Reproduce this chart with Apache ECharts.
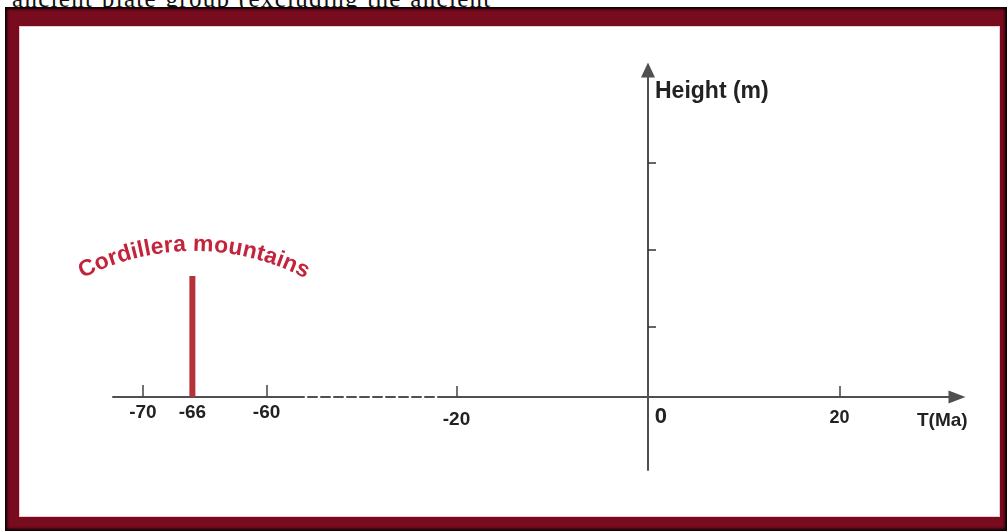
<!DOCTYPE html>
<html>
<head>
<meta charset="utf-8">
<script src="https://cdn.jsdelivr.net/npm/echarts@6/dist/echarts.min.js"></script>
<style>
  html, body { margin: 0; padding: 0; width: 1007px; height: 531px; overflow: hidden; background: #fff; }
  #top { position: absolute; left: 12px; top: -14px; font-family: "Liberation Serif", "DejaVu Serif", serif; font-size: 25px; line-height: 26px; letter-spacing: 1.3px; word-spacing: 1px; color: #111; white-space: nowrap; }
  #frame { position: absolute; left: 5px; top: 7px; width: 1002px; height: 524px; background: #780b1d; box-shadow: inset 0 0 3px 2px #000; }
  #inner { position: absolute; left: 19px; top: 26px; width: 981px; height: 491px; background: #fff; border: 1px solid #efc9d0; box-sizing: border-box; }
  #chart { position: absolute; left: 0; top: 0; width: 1007px; height: 531px; }
</style>
</head>
<body>
<div id="top">ancient plate group (excluding the ancient</div>
<div id="frame"></div>
<div id="inner"></div>
<div id="chart"></div>
<script>
// ---- data ----
const leftLabels = [-70, -66, -60];
const leftTicks = [-70, -60];
const rightLabels = [-20, 0, 20];
const rightTicks = [-20, 20];
const heightTicks = [700, 1470, 2340];
const barData = [[-66, 1210]];
const barLabel = 'Cordillera mountains';
const xName = 'T(Ma)';
const yName = 'Height (m)';

const FONT = '"Liberation Sans", Arial, sans-serif';
const AX = '#505050';
const TXT = '#222';
const RED_TXT = '#c3233b';
const RED_BAR = '#b5323b';

// ---- curved label (characters laid along an arc) ----
function arcText(text, cx, cy, R, fontSize, spacing) {
  const c = document.createElement('canvas').getContext('2d');
  c.font = 'bold ' + fontSize + 'px ' + FONT;
  const ws = [...text].map(ch => c.measureText(ch).width + spacing);
  const total = ws.reduce((a, b) => a + b, 0) - spacing;
  let acc = 0;
  const els = [];
  [...text].forEach((ch, i) => {
    const s = acc + (ws[i] - spacing) / 2 - total / 2;
    acc += ws[i];
    const th = s / R;
    const r = R + fontSize * 0.36;
    els.push({
      type: 'text',
      x: cx + r * Math.sin(th),
      y: cy - r * Math.cos(th),
      rotation: -th,
      style: {
        text: ch, fill: RED_TXT, fontSize: fontSize, fontWeight: 'bold',
        fontFamily: FONT, align: 'center', verticalAlign: 'middle'
      },
      z: 10
    });
  });
  return els;
}

const chart = echarts.init(document.getElementById('chart'), null, { renderer: 'canvas' });
const gridTop = 70, gridH = 400, yMin = -730, yMax = 3270;
const LM = -67; // label margin measured from grid bottom so labels sit under the zero line

chart.setOption({
  animation: false,
  backgroundColor: 'transparent',
  grid: [
    { left: 113, width: 182, top: gridTop, height: gridH },
    { left: 295, width: 145, top: gridTop, height: gridH },
    { left: 440, width: 517, top: gridTop, height: gridH }
  ],
  xAxis: [
    {
      gridIndex: 0, type: 'value', min: -72.42, max: -57.7,
      axisLine: { onZero: true, lineStyle: { color: AX, width: 2 } },
      axisTick: { inside: true, length: 12, customValues: leftTicks, lineStyle: { color: '#444', width: 1.5 } },
      axisLabel: { customValues: leftLabels, margin: LM, fontSize: 19, fontWeight: 'bold', color: TXT, fontFamily: FONT },
      splitLine: { show: false }
    },
    {
      gridIndex: 1, type: 'value', min: 0, max: 1,
      axisLine: { onZero: true, lineStyle: { color: AX, width: 2, type: [9, 4] } },
      axisTick: { show: false }, axisLabel: { show: false }, splitLine: { show: false }
    },
    {
      gridIndex: 2, type: 'value', min: -21.72, max: 32.27,
      axisLine: { onZero: true, symbol: ['none', 'triangle'], symbolSize: [13, 17], lineStyle: { color: AX, width: 2 } },
      axisTick: { inside: true, length: 11, customValues: rightTicks, lineStyle: { color: '#444', width: 1.5 } },
      axisLabel: {
        customValues: rightLabels, margin: LM, fontSize: 19, fontWeight: 'bold', color: TXT, fontFamily: FONT,
        formatter: function (v) {
          if (v === 0) return '{z|0}';
          if (v === -20) return '{a|' + v + '}';
          return '{b|' + v + '}';
        },
        rich: {
          z: { fontSize: 22, fontWeight: 'bold', color: TXT, fontFamily: FONT, padding: [3, 0, 0, 26] },
          a: { fontSize: 19, fontWeight: 'bold', color: TXT, fontFamily: FONT, padding: [7, 0, 0, 0] },
          b: { fontSize: 18, fontWeight: 'bold', color: TXT, fontFamily: FONT, padding: [6, 0, 0, 0] }
        }
      },
      splitLine: { show: false },
      name: xName, nameLocation: 'end', nameGap: -40,
      nameTextStyle: { fontSize: 19, fontWeight: 'bold', color: TXT, fontFamily: FONT, verticalAlign: 'top', lineHeight: 48 }
    }
  ],
  yAxis: [
    { gridIndex: 0, type: 'value', min: yMin, max: yMax, show: false },
    { gridIndex: 1, type: 'value', min: yMin, max: yMax, show: false },
    {
      gridIndex: 2, type: 'value', min: yMin, max: yMax,
      axisLine: { onZero: true, symbol: ['none', 'triangle'], symbolSize: [14, 15], lineStyle: { color: AX, width: 2 } },
      axisTick: { inside: true, length: 8, customValues: heightTicks, lineStyle: { color: '#333', width: 1.5 } },
      axisLabel: { show: false },
      splitLine: { show: false },
      name: yName, nameLocation: 'end', nameGap: -22,
      nameTextStyle: { fontSize: 23, fontWeight: 'bold', color: TXT, fontFamily: FONT, align: 'left', verticalAlign: 'middle', padding: [0, 0, 0, 7] }
    }
  ],
  series: [
    {
      type: 'bar', xAxisIndex: 0, yAxisIndex: 0, data: barData, barWidth: 6,
      itemStyle: { color: RED_BAR }
    }
  ],
  graphic: arcText(barLabel, 194, 493, 240, 23, 0)
});
</script>
</body>
</html>
